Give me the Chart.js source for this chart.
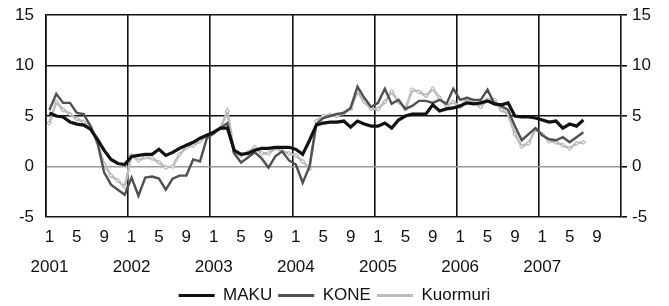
<!DOCTYPE html>
<html>
<head>
<meta charset="utf-8">
<script src="https://cdn.jsdelivr.net/npm/chart.js@4.4.1/dist/chart.umd.min.js"></script>
<style>
  html, body { margin: 0; padding: 0; background: #fff; }
</style>
</head>
<body>
<canvas id="chart" width="669" height="306"></canvas>
<script>
// ── Data (monthly, Jan 2001 – Jul 2007) ──────────────────────────
const years      = ['2001', '2002', '2003', '2004', '2005', '2006', '2007'];
const monthTicks = ['1', '5', '9'];
const yTicks     = [-5, 0, 5, 10, 15];

const maku = [
  5.3, 5.0, 4.9, 4.4, 4.2, 4.1, 3.7, 2.7, 1.6, 0.7, 0.3, 0.2,
  1.0, 1.1, 1.2, 1.2, 1.7, 1.1, 1.4, 1.8, 2.1, 2.4, 2.8, 3.1,
  3.4, 3.8, 3.8, 1.6, 1.2, 1.3, 1.6, 1.8, 1.8, 1.9, 1.9, 1.9,
  1.7, 1.2, 2.6, 4.1, 4.3, 4.4, 4.4, 4.5, 3.9, 4.5, 4.2, 4.0,
  4.0, 4.3, 3.8, 4.6, 5.0, 5.2, 5.2, 5.2, 6.1, 5.5, 5.7, 5.8,
  6.0, 6.3, 6.2, 6.3, 6.5, 6.2, 6.1, 6.3, 5.0, 4.9, 4.9, 4.8,
  4.6, 4.4, 4.5, 3.8, 4.2, 4.0, 4.6
];

const kone = [
  5.6, 7.2, 6.3, 6.3, 5.3, 5.2, 4.0, 2.4, -0.6, -1.8, -2.3, -2.8,
  -1.1, -2.9, -1.1, -1.0, -1.2, -2.3, -1.2, -0.9, -0.9, 0.7, 0.5, 2.8,
  3.3, 3.8, 4.3, 1.3, 0.4, 0.9, 1.4, 0.8, -0.1, 1.0, 1.5, 0.6,
  0.2, -1.6, 0.0, 4.2, 4.8, 5.0, 5.2, 5.3, 5.8, 7.9, 6.8, 5.9,
  6.3, 7.7, 6.2, 6.6, 5.7, 6.0, 6.5, 6.5, 6.3, 6.6, 6.2, 7.7,
  6.6, 6.8, 6.6, 6.6, 7.6, 6.2, 6.0, 5.6, 4.0, 2.6, 3.2, 3.8,
  3.1, 2.7, 2.6, 2.9, 2.4, 2.9, 3.4
];

const kuormuri = [
  4.3, 6.4, 5.6, 5.2, 4.7, 4.4, 3.9, 2.4, 0.2, -0.9, -1.4, -2.0,
  1.1, 0.6, 0.9, 0.8, 0.4, -0.1, 0.0, 1.2, 1.9, 2.1, 2.5, 3.1,
  3.3, 3.8, 5.5, 1.4, 1.1, 1.4, 1.9, 1.3, 1.3, 1.8, 1.5, 1.3,
  1.1, 0.5, -0.2, 4.5, 5.0, 5.1, 5.0, 5.3, 5.7, 7.4, 6.4, 5.7,
  5.7, 6.4, 7.4, 6.4, 5.7, 7.6, 7.4, 7.0, 7.7, 6.8, 6.0, 6.4,
  5.9, 6.7, 6.3, 5.9, 6.6, 6.6, 5.6, 5.2, 3.2, 2.0, 2.3, 3.7,
  3.2, 2.5, 2.4, 2.1, 1.8, 2.3, 2.4
];

// ── Category labels: one per month, "1 / year", "5", "9" ─────────
const labels = [];
years.forEach(year => {
  for (let m = 1; m <= 12; m++) {
    const t = String(m);
    if (m === 1) labels.push([t, year]);
    else labels.push(monthTicks.includes(t) ? t : '');
  }
});

const FONT = { family: '"Liberation Sans", Arial, sans-serif', size: 17 };
const INK  = '#111';

// y axes: fixed width, no extra label padding above/below the plot
const fitY = w => s => { s.width = w; s.paddingTop = 0; s.paddingBottom = 0; };

new Chart(document.getElementById('chart').getContext('2d'), {
  type: 'line',
  data: {
    labels,
    datasets: [
      {
        label: 'MAKU',
        data: maku,
        borderColor: '#111',
        backgroundColor: '#111',
        borderWidth: 3.2,
        pointRadius: 0,
        tension: 0
      },
      {
        label: 'KONE',
        data: kone,
        borderColor: '#505050',
        backgroundColor: '#505050',
        borderWidth: 2.4,
        pointRadius: 0,
        tension: 0
      },
      {
        label: 'Kuormuri',
        data: kuormuri,
        borderColor: '#bcbcbc',
        backgroundColor: '#e6e6e6',
        borderWidth: 2.6,
        pointStyle: 'rectRot',
        pointRadius: 2.2,
        pointBorderColor: '#a8a8a8',
        pointBorderWidth: 1,
        pointBackgroundColor: '#e6e6e6',
        tension: 0
      }
    ]
  },
  options: {
    responsive: false,
    animation: false,
    layout: { padding: { top: 15, right: 0, bottom: -8, left: 0 } },
    plugins: {
      tooltip: { enabled: false },
      legend: {
        position: 'bottom',
        labels: {
          font: FONT,
          color: INK,
          boxWidth: 36,
          boxHeight: 3,
          padding: 6,
          generateLabels: chart => chart.data.datasets.map((ds, i) => ({
            text: ds.label,
            fillStyle: ds.borderColor,
            strokeStyle: ds.borderColor,
            lineWidth: 0,
            fontColor: INK,
            datasetIndex: i
          }))
        }
      }
    },
    scales: {
      x: {
        offset: true,
        border: { display: false },
        grid: {
          offset: true,
          drawTicks: false,
          lineWidth: 1.6,
          color: c => (c.index % 12 === 0 ? INK : 'rgba(0,0,0,0)')
        },
        ticks: {
          autoSkip: false,
          maxRotation: 0,
          padding: 5,
          color: INK,
          font: { ...FONT, lineHeight: 1.765 }
        },
        afterFit: s => { s.height = 64; }
      },
      y: {
        min: -5,
        max: 15,
        afterBuildTicks: s => { s.ticks = yTicks.map(v => ({ value: v })); },
        border: { color: INK, width: 1.6 },
        grid: {
          drawTicks: false,
          lineWidth: 1.6,
          color: c => (c.tick && c.tick.value === 0 ? '#9a9a9a' : INK)
        },
        ticks: { padding: 12, color: INK, font: FONT },
        afterFit: fitY(46)
      },
      y2: {
        position: 'right',
        min: -5,
        max: 15,
        afterBuildTicks: s => { s.ticks = yTicks.map(v => ({ value: v })); },
        border: { color: INK, width: 1.6 },
        grid: { drawOnChartArea: false, tickLength: 6, lineWidth: 1.6, color: INK },
        ticks: { padding: 5, color: INK, font: FONT },
        afterFit: fitY(48)
      }
    }
  }
});
</script>
</body>
</html>
